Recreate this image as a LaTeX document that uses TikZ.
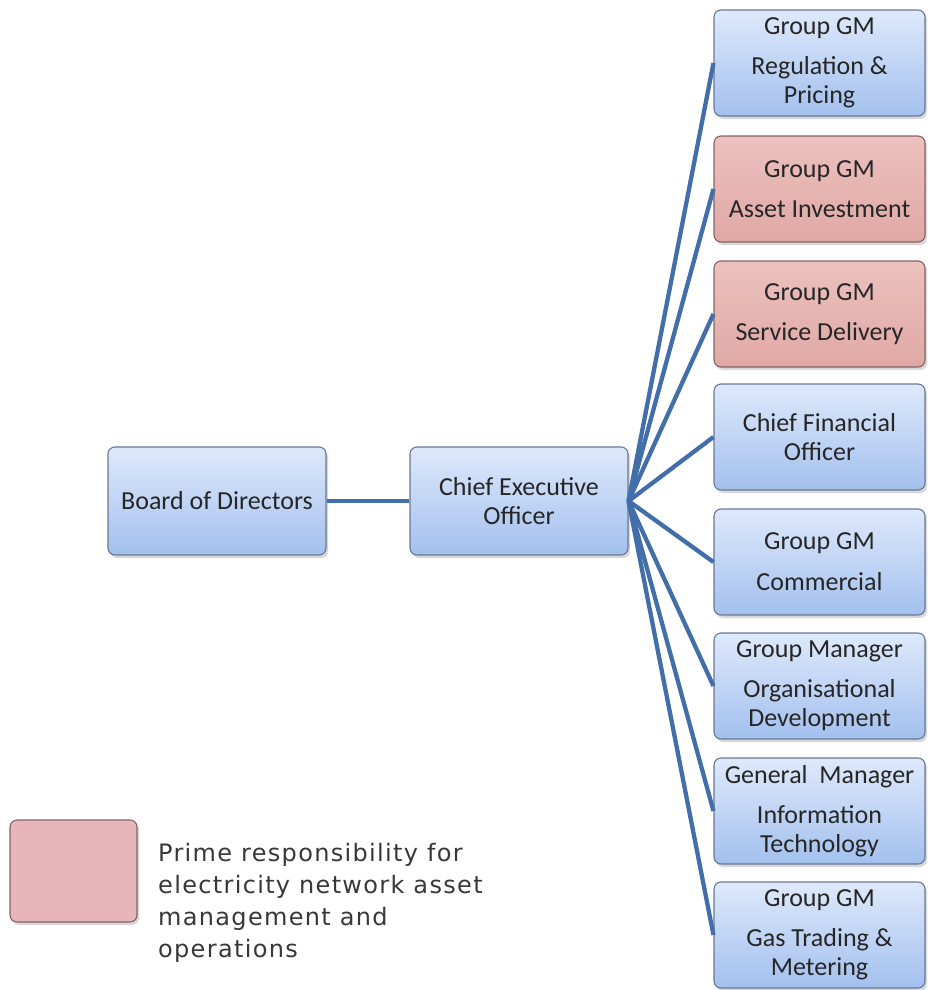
\documentclass[tikz,border=0pt]{standalone}
\usepackage{fontspec}
\setmainfont{Carlito}
\newfontfamily\legendfont[LetterSpace=5.5]{DejaVu Sans}
\usetikzlibrary{shadows}
\definecolor{linkblue}{RGB}{66,110,170}
\definecolor{boxtop}{RGB}{222,233,251}
\definecolor{boxbot}{RGB}{163,192,238}
\definecolor{boxline}{RGB}{105,120,148}
\definecolor{pinktop}{RGB}{236,193,190}
\definecolor{pinkbot}{RGB}{224,168,165}
\definecolor{pinkline}{RGB}{130,100,100}
\definecolor{legpink}{RGB}{232,182,186}
\tikzset{
  orgbox/.style={draw=boxline, line width=1.1pt, rounded corners=7pt,
    top color=boxtop, bottom color=boxbot, align=center, inner sep=0pt,
    font=\fontsize{26}{29}\selectfont, text=black!85,
    drop shadow={shadow xshift=2pt, shadow yshift=-3pt, opacity=0.3}},
  rightbox/.style={orgbox, minimum width=211pt, minimum height=106pt},
  midbox/.style={orgbox, minimum width=218pt, minimum height=108pt},
  pinkbox/.style={rightbox, draw=pinkline, top color=pinktop, bottom color=pinkbot},
  link/.style={draw=linkblue, line width=4.3pt}
}
\begin{document}
\begin{tikzpicture}
\useasboundingbox[fill=white] (0pt,0pt) rectangle (927pt,-990pt);

\node[midbox] (board) at (217pt,-501pt) {Board of Directors};
\node[midbox] (ceo) at (519pt,-501pt) {Chief Executive\\Officer};

\node[rightbox] (r1) at (819.5pt,-63pt) {Group GM\\[11pt]Regulation \&\\Pricing};
\node[pinkbox] (r2) at (819.5pt,-189pt) {Group GM\\[11pt]Asset Investment};
\node[pinkbox] (r3) at (819.5pt,-314pt) {Group GM\\[11pt]Service Delivery};
\node[rightbox] (r4) at (819.5pt,-437pt) {Chief Financial\\Officer};
\node[rightbox] (r5) at (819.5pt,-562pt) {Group GM\\[12pt]Commercial};
\node[rightbox] (r6) at (819.5pt,-686pt) {Group Manager\\[11pt]Organisational\\Development};
\node[rightbox] (r7) at (819.5pt,-811pt) {General~~Manager\\[11pt]Information\\Technology};
\node[rightbox] (r8) at (819.5pt,-935pt) {Group GM\\[11pt]Gas Trading \&\\Metering};

\draw[link] (board.east) -- (ceo.west);
\foreach \t in {r1,r2,r3,r4,r5,r6,r7,r8}{
  \draw[link] (ceo.east) -- (\t.west);
}

\node[draw=pinkline, line width=1.1pt, fill=legpink, rounded corners=7pt,
  minimum width=127pt, minimum height=102pt, inner sep=0pt,
  drop shadow={shadow xshift=2pt, shadow yshift=-3pt, opacity=0.3}] (leg) at (73.5pt,-871pt) {};
\node[anchor=north west, align=left, inner sep=0pt, text=black!78,
  font=\legendfont\fontsize{24}{32}\selectfont] (legtext) at (158pt,-843pt)
  {Prime responsibility for\\electricity network asset\\management and\\operations};
\end{tikzpicture}
\end{document}
